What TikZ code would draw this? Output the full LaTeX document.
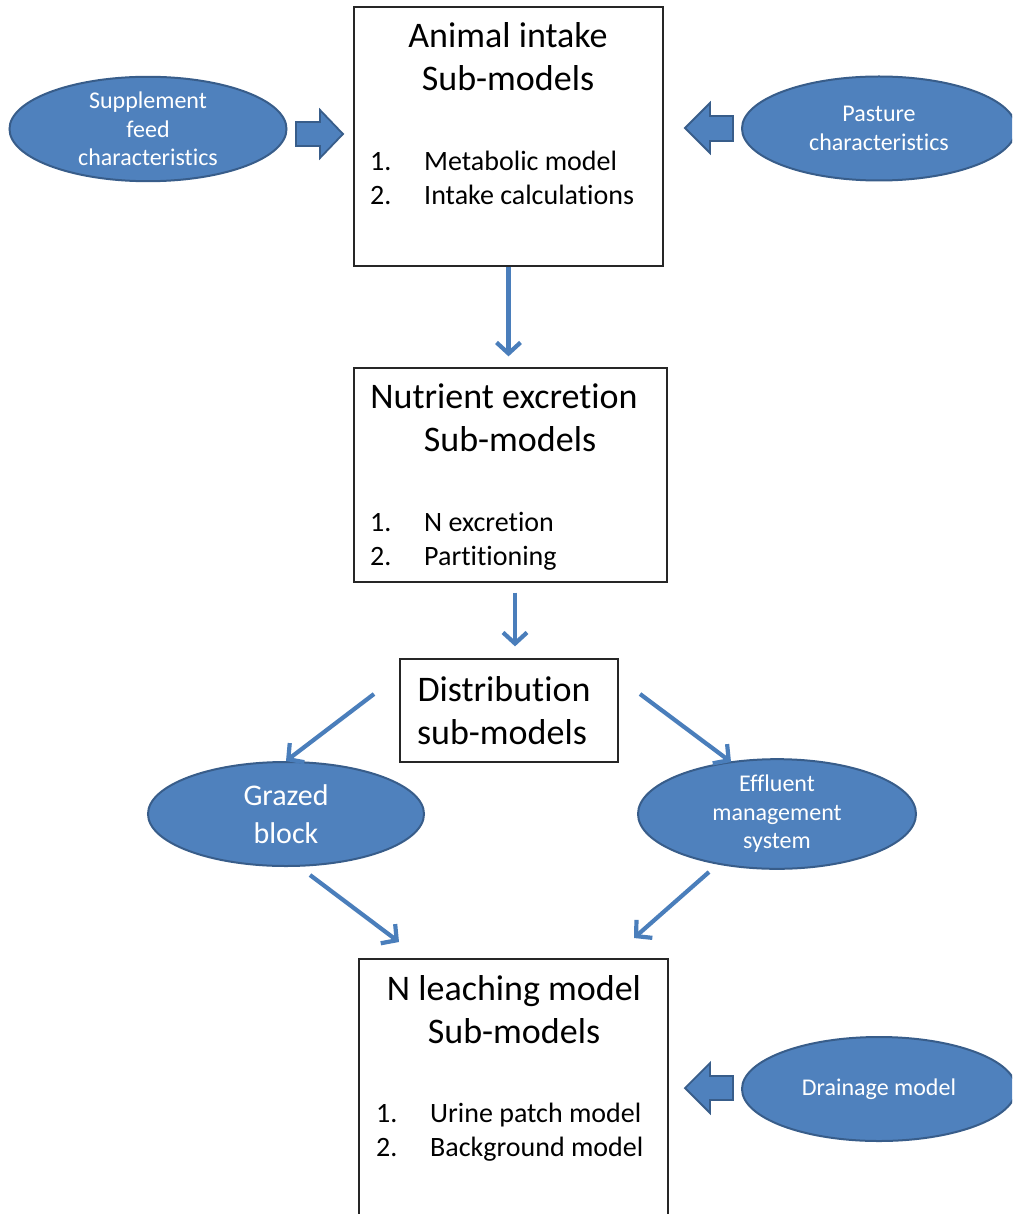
\documentclass[tikz,border=0pt]{standalone}
\usepackage{fontspec}
\setmainfont[RawFeature={-liga;-clig;-calt;-dlig}]{Carlito}
\usetikzlibrary{arrows.meta,shapes.geometric,calc}
\definecolor{ofill}{HTML}{4F81BD}
\definecolor{oline}{HTML}{385D8A}
\definecolor{oarrow}{HTML}{4A7EBB}
\begin{document}
\begin{tikzpicture}[x=1pt,y=-1pt,
 box/.style={draw=black!85,line width=1.3pt,inner sep=0pt},
 oval/.style={ellipse,fill=ofill,draw=oline,line width=2pt,inner sep=0pt,text=white,align=center},
 ttl/.style={font=\fontsize{36}{43}\selectfont,anchor=base,inner sep=0pt},
 itm/.style={font=\fontsize{28}{34}\selectfont,anchor=base west,inner sep=0pt},
 small/.style={font=\fontsize{24}{28.5}\selectfont},
 big/.style={font=\fontsize{30}{38}\selectfont},
 conn/.style={draw=oarrow,line width=4.2pt,-{Straight Barb[length=11pt,width=24pt]}},
 blk/.style={fill=ofill,draw=oline,line width=1.8pt,line join=miter}
]
\useasboundingbox (0,0) rectangle (1012,1214);
\fill[white] (0,0) rectangle (1012,1214);
\clip (0,0) rectangle (1012,1214);

% boxes
\node[box,minimum width=309pt,minimum height=259pt] (b1) at (508.5,136.5) {};
\node[box,minimum width=313pt,minimum height=214pt] (b2) at (510.5,475) {};
\node[box,minimum width=218pt,minimum height=103pt] (b3) at (509,710.5) {};
\node[box,minimum width=309pt,minimum height=265pt] (b4) at (513.5,1091.5) {};

% box texts
\node[ttl] (t1a) at (508,48) {Animal intake};
\node[ttl] (t1b) at (508,91) {Sub-models};
\node[itm] (n1a) at (370,171) {1.};
\node[itm] (i1a) at (424,171) {Metabolic model};
\node[itm] (n1b) at (370,205) {2.};
\node[itm] (i1b) at (424,205) {Intake calculations};

\node[ttl] (t2a) at (504,408) {Nutrient excretion};
\node[ttl] (t2b) at (510,451) {Sub-models};
\node[itm] (n2a) at (370,531) {1.};
\node[itm] (i2a) at (424,531) {N excretion};
\node[itm] (n2b) at (370,565) {2.};
\node[itm] (i2b) at (424,565) {Partitioning};

\node[ttl] (t3a) at (504,701) {Distribution};
\node[ttl] (t3b) at (502,744) {sub-models};

\node[ttl] (t4a) at (514,1000) {N leaching model};
\node[ttl] (t4b) at (514,1043) {Sub-models};
\node[itm] (n4a) at (376,1122) {1.};
\node[itm] (i4a) at (430,1122) {Urine patch model};
\node[itm] (n4b) at (376,1156) {2.};
\node[itm] (i4b) at (430,1156) {Background model};

% ellipses
\node[oval,small,minimum width=277pt,minimum height=104pt] (supp) at (148,129) {Supplement\\feed\\characteristics};
\node[oval,small,minimum width=274pt,minimum height=104pt] (past) at (879,128.5) {Pasture\\characteristics};
\node[oval,big,minimum width=276pt,minimum height=104pt] (graz) at (286,814) {Grazed\\block};
\node[oval,small,minimum width=278pt,minimum height=104pt] (effl) at (777,814) {Effluent\\management\\system};
\node[oval,small,minimum width=274pt,minimum height=104pt] (drain) at (879,1089) {Drainage model};

% block arrows
\path[blk] (296,122)--(320,122)--(320,110)--(343,134)--(320,158)--(320,146)--(296,146)--cycle;
\path[blk] (733,116)--(710,116)--(710,103)--(685,128)--(710,153)--(710,141)--(733,141)--cycle;
\path[blk] (733,1076)--(710,1076)--(710,1063)--(685,1088)--(710,1113)--(710,1100)--(733,1100)--cycle;

% connectors
\coordinate (s3) at (374,694);
\coordinate (s4) at (640,694);
\coordinate (e4) at (731,762);
\coordinate (s5) at (310,875);
\coordinate (e5) at (399,942);
\coordinate (s6) at (709,872);
\coordinate (e6) at (634,938);
\draw[conn,shorten >=11pt] (b1.south) -- (b1.south |- b2.north);
\draw[conn] ($(b2.south)+(4.5,10)$) -- ($(b3.north)+(6,-12)$);
\draw[conn] (s3) -- (graz.north);
\draw[conn] (s4) -- (e4);
\draw[conn] (s5) -- (e5);
\draw[conn] (s6) -- (e6);
\end{tikzpicture}
\end{document}
